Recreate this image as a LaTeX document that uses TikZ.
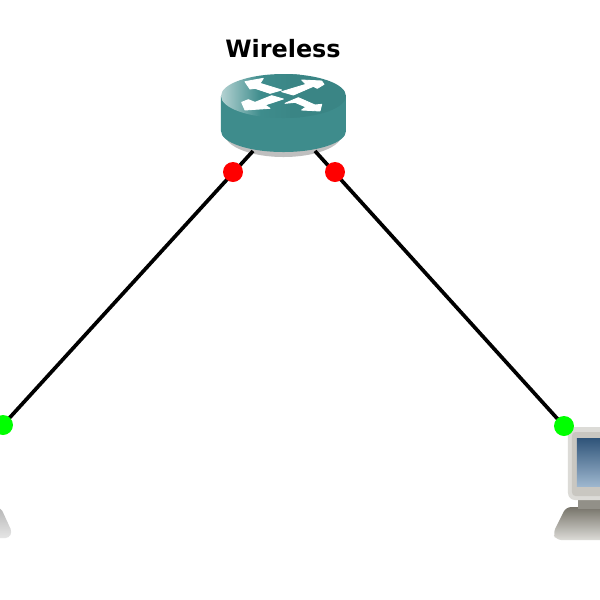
\documentclass[tikz,border=0pt]{standalone}
\usepackage{fontspec}
\setmainfont{DejaVu Sans}
\definecolor{teal1}{HTML}{3E8C8C}
\definecolor{teal2}{HTML}{3A8585}
\definecolor{tealL}{HTML}{B4D2D2}
\definecolor{linkred}{HTML}{FF0000}
\definecolor{linkgreen}{HTML}{00FF00}
\definecolor{pcface}{HTML}{C9C7C1}
\definecolor{pcedge}{HTML}{DCDBD7}
\definecolor{pcdark}{HTML}{77746A}
\definecolor{scrA}{HTML}{2F5479}
\definecolor{scrB}{HTML}{9DB6CE}
\tikzset{
  link/.style={draw=black,line width=2.1pt},
  dot/.style={circle,inner sep=0pt,minimum size=0.4cm},
  reddot/.style={dot,fill=linkred},
  greendot/.style={dot,fill=linkgreen},
  devlabel/.style={font=\fontsize{13.6}{15}\selectfont\bfseries,text=black,inner sep=0pt},
  arrowpoly/.style={fill=white,draw=white,line width=0.5pt,line join=round},
  anchorpt/.style={inner sep=0pt,minimum size=0pt}
}
\begin{document}
\begin{tikzpicture}[x=0.02cm,y=-0.02cm]
\useasboundingbox (0,0) rectangle (600,600);
\clip (0,0) rectangle (600,600);
\fill[white] (0,0) rectangle (600,600);

% named device anchor points
\coordinate (routerL) at (253,151);
\coordinate (routerR) at (315,151);
\coordinate (pcL) at (3,425);
\coordinate (pcR) at (564,426);

% left PC: visible fragment of base
\shade[top color=black!28,bottom color=black!10,rounded corners=2pt]
  (-8,508) -- (1,508) -- (12,532) -- (9,538) -- (-8,538) -- cycle;

% right PC
\shade[top color=pcdark,bottom color=pcedge,rounded corners=3pt]
  (566,507) -- (620,507) -- (620,540) -- (556,540) -- (553,533) -- cycle;
\fill[pcdark!80!white] (578,498) rectangle (620,509);
\fill[pcedge,rounded corners=4pt] (568,427) rectangle (620,500);
\fill[pcface,rounded corners=2pt] (572,432) rectangle (620,496);
\shade[top color=scrA,bottom color=scrB] (577,438) rectangle (620,486);

% router
\fill[black!25] (225,137) -- (225,134) arc[start angle=180,end angle=0,x radius=58.5,y radius=23] -- (342,137) -- cycle;
\fill[teal1] (221,96) -- (221,131) arc[start angle=180,end angle=0,x radius=62.5,y radius=21] -- (346,96) -- cycle;
\begin{scope}
  \clip (283.5,96) ellipse[x radius=62.5,y radius=22];
  \shade[left color=tealL,right color=teal2,middle color=teal1] (221,74) rectangle (300,118);
  \fill[teal2] (290,74) rectangle (346,118);
\end{scope}
\begin{scope}[shift={(200,25)},x=0.00667cm,y=-0.00667cm]
  \fill[arrowpoly] (135,170) -- (190,160) -- (180,175) -- (245,195) -- (210,205) -- (165,190) -- (150,192) -- cycle;
  \fill[arrowpoly] (372,178) -- (352,190) -- (340,184) -- (280,210) -- (245,200) -- (318,178) -- (305,165) -- (365,168) -- cycle;
  \fill[arrowpoly] (125,232) -- (145,224) -- (165,232) -- (215,212) -- (250,222) -- (195,240) -- (210,250) -- (135,255) -- cycle;
  \fill[arrowpoly] (255,235) -- (295,218) -- (345,240) -- (365,238) -- (360,258) -- (305,255) -- (318,246) -- (285,232) -- cycle;
\end{scope}
\node[anchorpt] (routerbody) at (283.5,113) {};

\node[devlabel] (wlabel) at (283,49) {Wireless};

% connectors
\draw[link] (routerL) -- (pcL);
\draw[link] (routerR) -- (pcR);

% status dots
\node[reddot] (s1) at (233,172) {};
\node[reddot] (s2) at (335,172) {};
\node[greendot] (s3) at (pcL) {};
\node[greendot] (s4) at (pcR) {};
\end{tikzpicture}
\end{document}
